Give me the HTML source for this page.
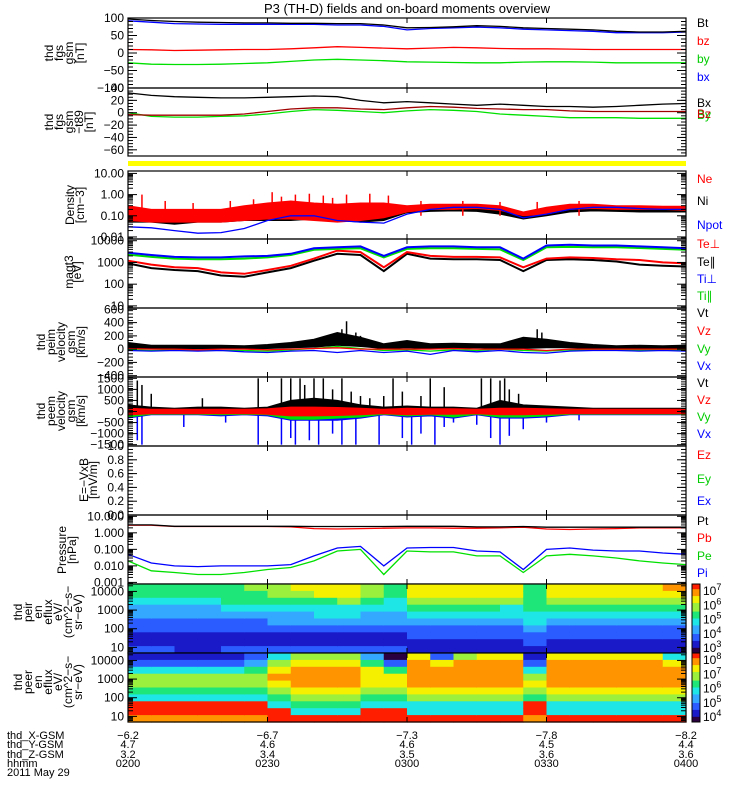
<!DOCTYPE html>
<html><head><meta charset="utf-8">
<style>
html,body{margin:0;padding:0;background:#fff;}
svg{display:block;font-family:"Liberation Sans",sans-serif;}
</style></head>
<body>
<svg id="chart" width="750" height="800" viewBox="0 0 750 800" xmlns="http://www.w3.org/2000/svg">
<rect x="0" y="0" width="750" height="800" fill="#fff"/>
<text x="407" y="13" font-size="13" text-anchor="middle">P3 (TH-D) fields and on-board moments overview</text>
<g id="layer"></g>
</svg>
<script>
// ---- data (5-minute samples, 0200..0400) ----
const times = [0,5,10,15,20,25,30,35,40,45,50,55,60,65,70,75,80,85,90,95,100,105,110,115,120];
const xTickLabels = ["0200","0230","0300","0330","0400"];
const xGsm = ["-6.2","-6.7","-7.3","-7.8","-8.2"];
const yGsm = ["4.7","4.6","4.6","4.5","4.4"];
const zGsm = ["3.2","3.4","3.5","3.6","3.6"];
// panel 1 B gsm
const bt = [97,93,90,88,87,86,86,85,85,84,84,80,72,73,75,78,76,72,70,68,66,62,60,60,62];
const bxg = [92,88,84,83,82,82,82,82,82,80,80,76,66,70,72,74,72,68,66,64,62,58,58,58,60];
const bzg = [10,9,7,8,9,10,10,12,15,18,16,14,12,14,16,15,13,12,12,11,10,10,10,10,10];
const byg = [-28,-32,-33,-33,-32,-30,-28,-24,-20,-18,-20,-22,-25,-26,-27,-28,-28,-26,-25,-25,-26,-28,-28,-28,-28];
// panel 2 B - t89
const dbx = [32,28,26,25,24,24,25,26,27,26,20,16,18,16,14,12,14,12,10,10,9,10,12,14,15];
const dbz = [-3,-4,-4,-4,-4,-2,2,6,8,8,6,5,8,10,9,7,6,5,5,3,2,2,2,2,2];
const dby = [0,-6,-7,-7,-6,-5,-2,2,5,4,2,0,3,5,4,2,-2,-4,-6,-8,-8,-8,-9,-9,-9];
// panel 3 density
const neLo = [0.06,0.05,0.05,0.05,0.05,0.06,0.07,0.07,0.06,0.05,0.06,0.08,0.15,0.2,0.2,0.22,0.18,0.1,0.12,0.2,0.22,0.2,0.2,0.2,0.18];
const neHi = [0.3,0.2,0.2,0.2,0.2,0.3,0.4,0.5,0.4,0.35,0.4,0.4,0.3,0.35,0.35,0.35,0.3,0.15,0.25,0.35,0.35,0.3,0.3,0.28,0.28];
const niLo = [0.05,0.05,0.04,0.05,0.05,0.06,0.06,0.06,0.07,0.06,0.05,0.06,0.14,0.16,0.17,0.16,0.12,0.07,0.1,0.15,0.17,0.16,0.15,0.15,0.15];
const niHi = [0.1,0.09,0.09,0.1,0.1,0.12,0.15,0.15,0.15,0.12,0.12,0.15,0.2,0.22,0.24,0.22,0.18,0.12,0.16,0.22,0.24,0.22,0.2,0.2,0.2];
const npot = [0.03,0.027,0.02,0.015,0.016,0.025,0.06,0.1,0.1,0.06,0.05,0.045,0.12,0.2,0.25,0.25,0.2,0.08,0.12,0.2,0.25,0.25,0.22,0.2,0.2];
const neSpikeT = [3,8,14,22,27,31,33,36,39,42,44,47,52,56,63,72,80,88,97];
const neSpikeV = [1.0,0.5,0.4,0.5,0.6,1.3,0.8,1.0,1.1,0.9,0.7,1.0,1.1,0.9,0.5,0.5,0.45,0.45,0.5];
// panel 4 temperatures
const tiPerp = [2800,2200,1800,1700,1700,1900,2000,2500,4500,5000,5500,2000,5000,5500,5500,5000,5000,1500,6000,6500,6000,6000,5500,5000,4500];
const tiPar = [2300,1800,1500,1400,1400,1500,1700,2200,3800,4200,4500,1700,4200,4500,4500,4200,4000,1300,5000,5200,5000,5000,4600,4200,3800];
const tePerp = [1200,800,600,550,350,300,450,700,1500,3500,3000,600,3000,2000,1800,1800,1700,600,1500,1700,1600,1400,1300,1000,900];
const tePar = [900,550,450,400,250,220,350,550,1200,2500,2200,400,2500,1500,1400,1400,1300,400,1300,1400,1300,1100,800,700,650];
// panel 5 ion velocity
const vitLo = [20,10,10,10,10,10,10,20,30,60,40,10,20,10,10,20,10,10,20,20,10,10,10,10,10];
const vitHi = [100,60,60,60,60,50,70,100,150,250,180,80,130,80,90,80,80,180,150,100,70,50,60,50,60];
const vix = [-20,-30,-20,-30,-20,-40,-50,-30,-20,-50,-20,-50,-30,-80,-20,-40,-20,-50,-60,-30,-20,-20,-30,-20,-30];
const viy = [-10,-20,-10,-10,-20,-20,-30,-10,10,40,10,-20,-10,-30,-10,-20,0,-20,-30,-10,-10,-10,-10,-10,-10];
const viz = [10,0,0,-10,0,0,-10,0,10,20,0,0,0,0,10,0,0,0,-20,0,0,0,0,0,0];
const viSpikeT = [46,47,49,50,88,89];
const viSpikeV = [300,420,250,200,300,250];
// panel 6 electron velocity
const vetHi = [300,200,150,200,200,150,200,500,600,500,300,200,250,200,200,150,500,300,250,200,150,150,150,150,150];
const vexLo = [-300,-150,-150,-150,-200,-150,-200,-400,-400,-400,-300,-150,-250,-200,-300,-150,-300,-300,-250,-150,-150,-150,-150,-150,-150];
const veyLo = [-250,-120,-120,-120,-150,-120,-150,-350,-350,-300,-250,-120,-200,-150,-250,-120,-250,-250,-200,-120,-120,-120,-120,-120,-120];
const vezHi = [150,100,100,100,100,100,120,200,200,180,150,100,150,120,120,100,150,150,120,100,100,100,100,100,100];
const veSpikeUpT = [2,3,5,16,28,33,35,37,38,40,42,44,46,48,50,52,55,57,59,63,65,68,76,78,80,81,82,84];
const veSpikeUpV = [1400,1200,800,600,1500,1500,1500,1500,1200,1500,1500,1000,1500,900,700,600,700,1500,900,700,1500,1100,1500,1500,1400,1500,1000,800];
const veSpikeDnT = [2,3,12,21,28,33,35,36,39,41,44,46,49,54,59,61,63,66,68,70,75,78,80,82,85,90,97];
const veSpikeDnV = [-1300,-1500,-700,-500,-1500,-1500,-1200,-1500,-1300,-1500,-1000,-1500,-1500,-1500,-1200,-1500,-1000,-1500,-700,-500,-600,-1200,-1500,-1100,-800,-500,-400];
// panel 8 pressure
const pt = [3,3,2.5,2.5,2.5,2.5,2.5,2.5,2.4,2.4,2.4,2.4,2.5,2.5,2.5,2.3,2.3,2.4,2.2,2.2,2.2,2.2,2.2,2.2,2.2];
const pb = [2.9,2.9,2.4,2.4,2.4,2.4,2.4,2.3,1.8,1.7,1.8,1.9,2.0,2.0,1.9,1.9,2.0,2.2,1.7,1.6,1.7,1.8,2.0,2.0,2.0];
const pi = [0.05,0.015,0.01,0.009,0.01,0.01,0.01,0.012,0.04,0.12,0.15,0.01,0.12,0.13,0.13,0.08,0.07,0.006,0.1,0.12,0.09,0.08,0.08,0.06,0.05];
const pe = [0.02,0.005,0.004,0.003,0.003,0.004,0.006,0.008,0.02,0.08,0.1,0.003,0.08,0.07,0.07,0.04,0.04,0.004,0.04,0.05,0.04,0.03,0.02,0.015,0.012];
// spectrograms: 24 columns (5 min), 10 energy rows top(high)->bottom(low), colour level 0-9
const ionSpec = ["5543322112","5543322112","5543322111","5543322111","5554322112","6554322112",
 "6654332112","7654332112","7754432112","7764432112","6654332112","5544332112",
 "7765432211","7765432211","7765432211","7765432211","7764432211","5555443221",
 "7765432211","7765432211","7765432211","7765432211","7765432211","8765432211"];
const eleSpec = ["1246654998","1246654998","1246654998","1246654998","1246654998","2356654998",
 "4678765499","6788876549","6788876549","6788876549","3577765499","0257765499",
 "7888876449","2788876449","6888876449","7888876449","7888876449","1246765998",
 "7888876449","7888876449","7888876449","7888876449","7888876449","4788876449"];
const specColors = ["#2a0040","#1a1ac8","#2a5cff","#34a8ff","#1ee6e6","#1ee678","#9af03c","#f5f000","#ff9400","#ff1e00"];

const L=128, R=686;
const svgNS="http://www.w3.org/2000/svg";
const layer=document.getElementById('layer');
function el(tag, attrs, parent){const e=document.createElementNS(svgNS,tag);for(const k in attrs)e.setAttribute(k,attrs[k]);(parent||layer).appendChild(e);return e;}
function xs(t){return L+(t/120)*(R-L);}
function mkY(p){return v=>{ if(p.log){const a=Math.log10(p.min),b=Math.log10(p.max);return p.bot-(Math.log10(Math.max(v,p.min))-a)/(b-a)*(p.bot-p.top);} return p.bot-(v-p.min)/(p.max-p.min)*(p.bot-p.top);};}
function clampY(p,y){return Math.max(p.top,Math.min(p.bot,y));}
function line(p,arr,color,name,w){
  const y=mkY(p);const pts=arr.map((v,i)=>xs(times[i]).toFixed(1)+','+clampY(p,y(v)).toFixed(1)).join(' ');
  const e=el('polyline',{points:pts,fill:'none',stroke:color,'stroke-width':w||1.3});
  
  
}
function band(p,lo,hi,color,name){
  const y=mkY(p);
  const a=hi.map((v,i)=>xs(times[i]).toFixed(1)+','+clampY(p,y(v)).toFixed(1));
  const b=lo.map((v,i)=>xs(times[i]).toFixed(1)+','+clampY(p,y(v)).toFixed(1)).reverse();
  const e=el('polygon',{points:a.concat(b).join(' '),fill:color,stroke:color,'stroke-width':1});
  
  
}
function spikes(p,ts,vs,base,color,name){
  const y=mkY(p);const g=el('g',{});
  
  
  ts.forEach((t,i)=>{const xx=xs(t);el('line',{x1:xx,x2:xx,y1:clampY(p,y(base)),y2:clampY(p,y(vs[i])),stroke:color,'stroke-width':1.5},g);});
}
function axes(p,name,ticks,labels,minorStep){
  const y=mkY(p);
  const g=el('g',{});
  
  
  ticks.forEach((v,i)=>{const yy=y(v);
    el('line',{x1:L,x2:L+9,y1:yy,y2:yy,stroke:'#000'},g);el('line',{x1:R-9,x2:R,y1:yy,y2:yy,stroke:'#000'},g);
    const t=el('text',{x:L-4,y:yy+4,'font-size':12,'text-anchor':'end'},g);t.textContent=labels[i];
    
    
  });
  if(p.log){for(let d=Math.floor(Math.log10(p.min));d<Math.log10(p.max);d++){for(let k=2;k<10;k++){const v=k*Math.pow(10,d);if(v<p.min||v>p.max)continue;const yy=y(v);
    el('line',{x1:L,x2:L+5,y1:yy,y2:yy,stroke:'#000'},g);el('line',{x1:R-5,x2:R,y1:yy,y2:yy,stroke:'#000'},g);}}}
  else if(minorStep){for(let v=p.min;v<=p.max+1e-9;v+=minorStep){const yy=y(v);el('line',{x1:L,x2:L+5,y1:yy,y2:yy,stroke:'#000'},g);el('line',{x1:R-5,x2:R,y1:yy,y2:yy,stroke:'#000'},g);}}
  for(let t=30;t<120;t+=30){const xx=xs(t);el('line',{x1:xx,x2:xx,y1:p.top,y2:p.top+5,stroke:'#000'},g);el('line',{x1:xx,x2:xx,y1:p.bot-5,y2:p.bot,stroke:'#000'},g);}
  el('rect',{x:L,y:p.top,width:R-L,height:p.bot-p.top,fill:'none',stroke:'#000','stroke-width':1.2},g);
}
function ylab(lines,xs0,cy,name,fs){
  lines.forEach((s,i)=>{const x=xs0[i];const t=el('text',{x:x,y:cy,'font-size':fs||12,'text-anchor':'middle',transform:'rotate(-90 '+x+' '+cy+')'});t.textContent=s;
    
    });
}
function legend(items,name){
  items.forEach(it=>{const t=el('text',{x:697,y:it[2],'font-size':12,fill:it[1]});t.textContent=it[0];
    
    });
}
function spec(p,data,name){
  const g=el('g',{});
  
  
  const cw=(R-L)/data.length, rows=data[0].length, rh=(p.bot-p.top)/rows;
  data.forEach((col,i)=>{for(let r=0;r<rows;r++){el('rect',{x:(L+i*cw).toFixed(2),y:(p.top+r*rh).toFixed(2),width:(cw+0.6).toFixed(2),height:(rh+0.6).toFixed(2),fill:specColors[+col[r]]},g);}});
}
function colorbar(p,labels,name){
  const g=el('g',{});
  
  
  const n=40,h=(p.bot-p.top)/n;
  for(let i=0;i<n;i++){const lv=Math.round((1-i/(n-1))*9);el('rect',{x:692,y:p.top+i*h,width:8,height:h+0.5,fill:specColors[lv]},g);}
  el('rect',{x:692,y:p.top,width:8,height:p.bot-p.top,fill:'none',stroke:'#000'},g);
  labels.forEach((s,i)=>{const yy=p.top+6+i*(p.bot-p.top-12)/(labels.length-1);const t=el('text',{x:703,y:yy+5,'font-size':12},g);t.textContent='10';
    const s2=el('tspan',{dy:-5,'font-size':9},t);s2.textContent=s;});
}

// panels
const P1={top:18,bot:88,min:-100,max:100};
const P2={top:88,bot:156,min:-70,max:40};
const P3={top:171,bot:239,min:0.008,max:13,log:true};
const P4={top:239,bot:308,min:8,max:12000,log:true};
const P5={top:308,bot:377,min:-420,max:620};
const P6={top:377,bot:446,min:-1560,max:1560};
const P7={top:446,bot:515,min:0,max:1};
const P8={top:515,bot:584,min:0.0008,max:12,log:true};
const P9={top:584,bot:653,min:5,max:25000,log:true};
const P10={top:653,bot:722,min:5,max:25000,log:true};

// yellow separator bar
const yb=el('rect',{x:L,y:161,width:R-L,height:5,fill:'#ffff00'});



line(P1,byg,'#00e000','by-line');line(P1,bzg,'#ff0000','bz-line');line(P1,bxg,'#0000ff','bx-line');line(P1,bt,'#000','bt-line');
axes(P1,'fgs-gsm',[100,50,0,-50,-100],["100","50","0","\u221250","\u2212100"],10);
ylab(['thd','fgs','gsm','[nT]'],[53,63,73,84],53,'fgs-gsm-y-title');
legend([['Bt','#000',27],['bz','#f00',45],['by','#0c0',63],['bx','#00f',81]],'fgs-gsm');

line(P2,dby,'#00e000','dby-line');line(P2,dbz,'#a00000','dbz-line');line(P2,dbx,'#000','dbx-line');
axes(P2,'fgs-t89',[40,20,0,-20,-40,-60],["40","20","0","\u221220","\u221240","\u221260"],5);
ylab(['thd','fgs','gsm','\u2212t89','[nT]'],[53,63,73,83,93],122,'fgs-t89-y-title');
legend([['Bx','#000',107],['By','#0c0',119],['Bz','#c00',118]],'fgs-t89');

band(P3,niLo,niHi,'#000','ni-band');band(P3,neLo,neHi,'#ff0000','ne-band');
spikes(P3,neSpikeT,neSpikeV,0.1,'#ff0000','ne-spikes');
line(P3,npot,'#0000ff','npot-line');
axes(P3,'density',[10,1,0.1,0.01],["10.00","1.00","0.10","0.01"]);
ylab(['Density','[cm\u22123]'],[74,84],205,'density-y-title');
legend([['Ne','#f00',183],['Ni','#000',205],['Npot','#00f',229]],'density');

line(P4,tePar,'#000','te-par-line',2);line(P4,tePerp,'#ff0000','te-perp-line',2);line(P4,tiPar,'#00e000','ti-par-line',2);line(P4,tiPerp,'#0000ff','ti-perp-line',2);
axes(P4,'temperature',[10000,1000,100,10],["10000","1000","100","10"]);
ylab(['magt3','[eV]'],[73,81],272,'temperature-y-title');
legend([['Te\u22a5','#f00',248],['Te\u2225','#000',266],['Ti\u22a5','#00f',283],['Ti\u2225','#0c0',300]],'temperature');

band(P5,vitLo,vitHi,'#000','vit-band');spikes(P5,viSpikeT,viSpikeV,50,'#000','vit-spikes');
line(P5,viy,'#00e000','viy-line');line(P5,vix,'#0000ff','vix-line');line(P5,viz,'#ff0000','viz-line');
axes(P5,'ion-velocity',[600,400,200,0,-200,-400],["600","400","200","0","\u2212200","\u2212400"],50);
ylab(['thd','peim','velocity','gsm','[km/s]'],[45,55,65,75,85],342,'ion-velocity-y-title');
legend([['Vt','#000',317],['Vz','#f00',335],['Vy','#0c0',353],['Vx','#00f',370]],'ion-velocity');

const zeros=vetHi.map(()=>0);
band(P6,vexLo,zeros,'#0000ff','vex-band');spikes(P6,veSpikeDnT,veSpikeDnV,0,'#0000ff','vex-spikes');
band(P6,veyLo,zeros,'#00e000','vey-band');
band(P6,zeros,vetHi,'#000','vet-band');spikes(P6,veSpikeUpT,veSpikeUpV,0,'#000','vet-spikes');
band(P6,vezHi.map(v=>-v),vezHi,'#ff0000','vez-band');
axes(P6,'electron-velocity',[1500,1000,500,0,-500,-1000,-1500],["1500","1000","500","0","\u2212500","\u22121000","\u22121500"],100);
ylab(['thd','peem','velocity','gsm','[km/s]'],[45,55,65,75,85],411,'electron-velocity-y-title');
legend([['Vt','#000',387],['Vz','#f00',404],['Vy','#0c0',421],['Vx','#00f',438]],'electron-velocity');

axes(P7,'efield',[1,0.8,0.6,0.4,0.2,0],["1.0","0.8","0.6","0.4","0.2","0.0"],0.05);
ylab(['E=\u2212VxB','[mV/m]'],[88,97],480,'efield-y-title');
legend([['Ez','#f00',459],['Ey','#0c0',483],['Ex','#00f',505]],'efield');

line(P8,pe,'#00e000','pe-line');line(P8,pi,'#0000ff','pi-line');line(P8,pb,'#ff0000','pb-line');line(P8,pt,'#000','pt-line');
axes(P8,'pressure',[10,1,0.1,0.01,0.001],["10.000","1.000","0.100","0.010","0.001"]);
ylab(['Pressure','[nPa]'],[66,76],550,'pressure-y-title');
legend([['Pt','#000',525],['Pb','#f00',542],['Pe','#0c0',560],['Pi','#00f',577]],'pressure');

spec(P9,ionSpec,'ion-spectrogram');
axes(P9,'ion-spectrogram',[10000,1000,100,10],["10000","1000","100","10"]);
ylab(['thd','peir','en','eflux','eV/','(cm^2\u2212s\u2212','sr\u2212eV)'],[22,32,42,52,62,72,82],612,'ion-spectrogram-y-title');
colorbar(P9,['7','6','5','4','3'],'ion-colorbar');

spec(P10,eleSpec,'electron-spectrogram');
axes(P10,'electron-spectrogram',[10000,1000,100,10],["10000","1000","100","10"]);
ylab(['thd','peer','en','eflux','eV/','(cm^2\u2212s\u2212','sr\u2212eV)'],[22,32,42,52,62,72,82],682,'electron-spectrogram-y-title');
colorbar(P10,['8','7','6','5','4'],'electron-colorbar');

// bottom annotation
const rowsL=[['thd_X-GSM',xGsm,739],['thd_Y-GSM',yGsm,748],['thd_Z-GSM',zGsm,758],['hhmm',xTickLabels,767]];
rowsL.forEach(r=>{const t=el('text',{x:7,y:r[2],'font-size':11});t.textContent=r[0];
  
  
  r[1].forEach((s,i)=>{const tt=el('text',{x:xs(i*30),y:r[2],'font-size':11,'text-anchor':'middle'});tt.textContent=s.replace('-','\u2212');
    
    });
});
const dt=el('text',{x:7,y:776,'font-size':11});dt.textContent='2011 May 29';


</script>
</body></html>
